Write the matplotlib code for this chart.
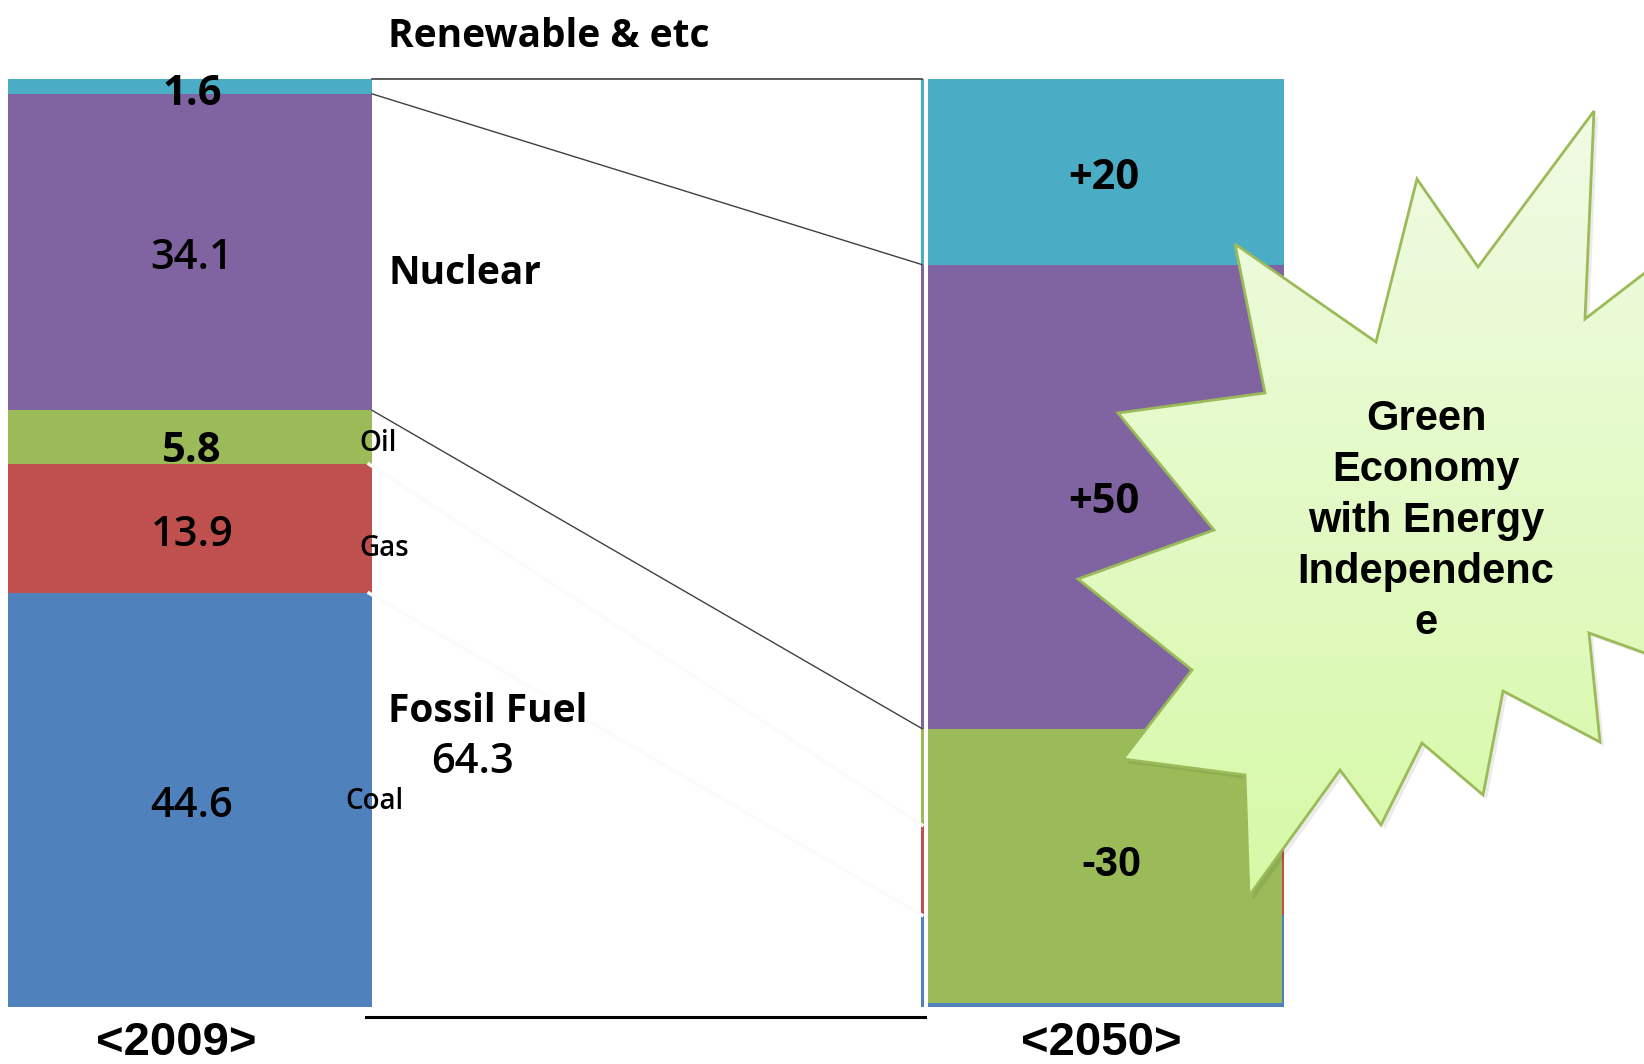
import numpy as np
import matplotlib
matplotlib.use("Agg")
import matplotlib.pyplot as plt
from matplotlib.patches import Polygon
from matplotlib.colors import LinearSegmentedColormap

# energy mix shares (%), stacked bottom -> top
sources = ["Coal", "Gas", "Oil", "Nuclear", "Renewable"]
share_2009 = [44.6, 13.9, 5.8, 34.1, 1.6]
share_2050 = [9.9, 9.7, 10.4, 50, 20]       # underlying 2050 bar
fossil_2050 = 30                             # green overlay (fossil fuel block)
fossil_2009 = 64.3
labels_2009 = ["44.6", "13.9", "5.8", "34.1", "1.6"]
change_labels = ["-30", "+50", "+20"]        # fossil, nuclear, renewable
colors = {"Coal": "#4f81bd", "Gas": "#c0504d", "Oil": "#9bbb59",
          "Nuclear": "#8064a2", "Renewable": "#4bacc6"}

W, H = 1644, 1064
fig = plt.figure(figsize=(W / 100, H / 100), dpi=100)

# bar axes: x in pixels, y in percent
ax = fig.add_axes([0, 57 / H, 1, 928 / H])
ax.set_xlim(0, W)
ax.set_ylim(0, 100)
ax.axis("off")

# overlay axes in pixel coords for text / callout
pix = fig.add_axes([0, 0, 1, 1])
pix.set_xlim(0, W)
pix.set_ylim(H, 0)
pix.axis("off")
pix.patch.set_alpha(0)
pix.set_zorder(3)

x09, w09 = 190, 364
x50, w50 = 1102.5, 363

cum09 = np.concatenate([[0], np.cumsum(share_2009)])
cum50 = np.concatenate([[0], np.cumsum(share_2050)])

for i, s in enumerate(sources):
    ax.bar(x09, share_2009[i], bottom=cum09[i], width=w09, color=colors[s], linewidth=0, zorder=2)
    ax.bar(x50, share_2050[i], bottom=cum50[i], width=w50, color=colors[s], linewidth=0, zorder=2)

# white separator inside 2050 bar and green fossil block on top
ax.bar(925.5, 100, width=4, color="white", linewidth=0, zorder=3)
ax.bar(1105, fossil_2050 - 0.5, bottom=0.45, width=354, color=colors["Oil"], linewidth=0, zorder=3)

# connectors between the two bars
xl, xr = x09 + w09 / 2, 922
ax.plot([xl, xr], [100, 100], color="#404040", lw=1.2, zorder=4, clip_on=False)
ax.plot([xl, xr], [cum09[4], cum50[4]], color="#404040", lw=1.0, zorder=4)
ax.plot([xl, xr], [cum09[3], cum50[3]], color="#404040", lw=1.0, zorder=4)
ax.plot([xl - 3, xr], [cum09[2], cum50[2]], color="#fbfbfb", lw=2.5, zorder=4)
ax.plot([xl - 3, xr], [cum09[1], cum50[1]], color="#fbfbfb", lw=2.5, zorder=4)
ax.plot([366, 925], [-1.1, -1.1], color="black", lw=2.2, zorder=4, clip_on=False)

# value labels inside the 2009 bar
ko = ["Open Sans", "DejaVu Sans"]
arial = ["Liberation Sans", "DejaVu Sans"]
offs = [0, 0, -8, 0, -2]
weights = [600, 600, "bold", 600, "bold"]
for i in range(5):
    mid = cum09[i] + share_2009[i] / 2
    ax.annotate(labels_2009[i], (x09 + 2, mid), xytext=(0, offs[i] * 0.72 - 4.5), textcoords="offset points",
                ha="center", va="center", fontsize=30, family=ko, fontweight=weights[i], zorder=5)

# change labels inside the 2050 bar
blocks = [(0, fossil_2050), (cum50[3], cum50[4]), (cum50[4], cum50[5])]
for (b0, b1), lab in zip(blocks, change_labels):
    neg = lab.startswith("-")
    ax.annotate(lab, (1111 if neg else 1104, (b0 + b1) / 2), xytext=(0, 2 if neg else -4.5),
                textcoords="offset points", ha="center", va="center", fontsize=30 if neg else 30,
                family=arial if neg else ko, fontweight="bold", zorder=5)

# side labels
pix.text(388, 47, "Renewable & etc", fontsize=28, family=ko, fontweight="bold", va="baseline")
pix.text(388, 284, "Nuclear", fontsize=28, family=ko, fontweight="bold", va="baseline")
pix.text(388, 722, "Fossil Fuel", fontsize=28, family=ko, fontweight="bold", va="baseline")
pix.text(472, 773, f"{fossil_2009}", fontsize=30, family=ko, fontweight=600, ha="center", va="baseline")
pix.text(359, 451, "Oil", fontsize=20, family=ko, fontweight=600, va="baseline")
pix.text(359, 556, "Gas", fontsize=20, family=ko, fontweight=600, va="baseline")
pix.text(345, 809, "Coal", fontsize=20, family=ko, fontweight=600, va="baseline")
pix.text(176, 1055, "<2009>", fontsize=34, family=arial, fontweight="bold", ha="center", va="baseline")
pix.text(1101, 1055, "<2050>", fontsize=34, family=arial, fontweight="bold", ha="center", va="baseline")

# starburst callout
star = [(1235, 244), (1376, 342), (1417, 179), (1478, 267), (1594, 111), (1585, 319),
        (1720, 215), (1675, 450), (1720, 680), (1589, 633), (1600, 742), (1503, 691),
        (1483, 795), (1422, 743), (1381, 825), (1340, 770), (1249, 896), (1245, 775),
        (1123, 759), (1192, 670), (1078, 579), (1214, 530), (1118, 413), (1265, 393)]
shadow = Polygon([(x + 4, y + 4) for x, y in star], closed=True, facecolor="#000000",
                 alpha=0.08, edgecolor="none", zorder=1)
pix.add_patch(shadow)
poly = Polygon(star, closed=True, facecolor="none", edgecolor="#9bbb59", lw=2, zorder=3)
pix.add_patch(poly)
cmap = LinearSegmentedColormap.from_list("burst", ["#f1fbe6", "#d6f9a6"])
grad = np.linspace(0, 1, 256).reshape(-1, 1)
im = pix.imshow(grad, cmap=cmap, extent=(1070, 1730, 900, 100), origin="upper",
                aspect="auto", zorder=2)
im.set_clip_path(poly)
pix.set_xlim(0, W)
pix.set_ylim(H, 0)

burst_lines = ["Green", "Economy", "with Energy", "Independenc", "e"]
for k, line in enumerate(burst_lines):
    pix.text(1426, 430 + 51 * k, line, fontsize=30, family=arial, fontweight="bold",
             ha="center", va="baseline", zorder=4)

fig.savefig("out.png", dpi=100, facecolor="white")
